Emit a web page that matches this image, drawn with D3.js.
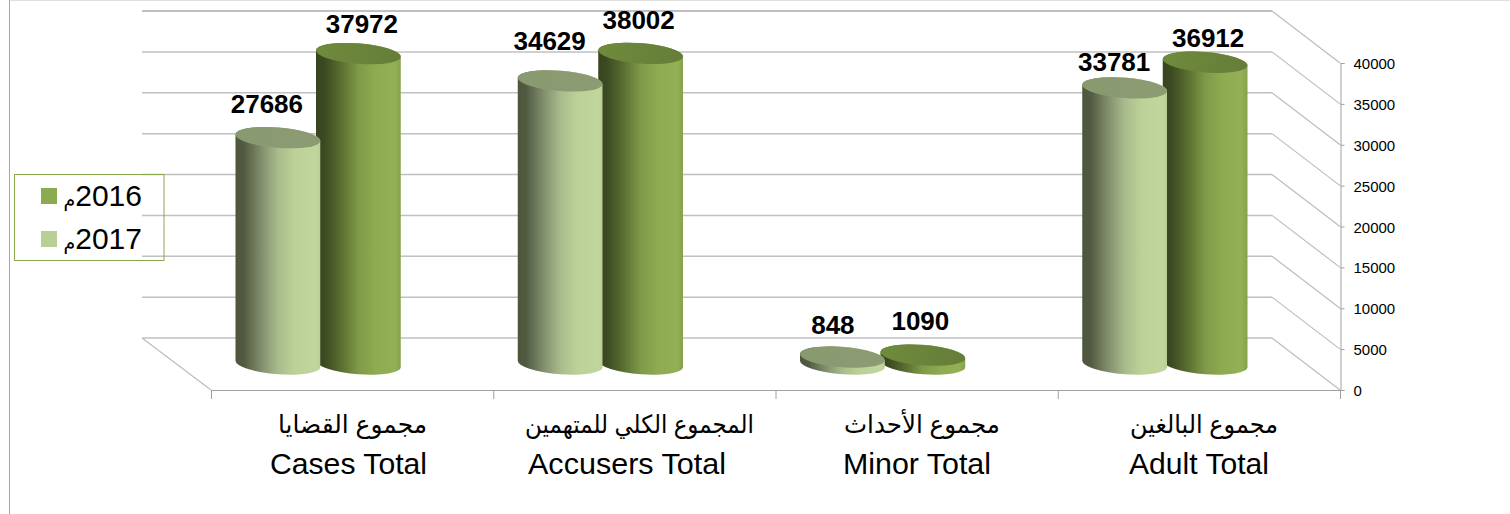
<!DOCTYPE html>
<html lang="ar">
<head>
<meta charset="utf-8">
<script src="https://cdn.jsdelivr.net/npm/d3@7/dist/d3.min.js"></script>
<style>
html,body{margin:0;padding:0;background:#fff;overflow:hidden}
svg{display:block}
text{font-family:"Liberation Sans",Arial,"DejaVu Sans",sans-serif;fill:#000}
</style>
</head>
<body>
<svg id="c" width="1510" height="514"></svg>
<script>
// ---- data ----
const categoriesEn = ["Cases Total", "Accusers Total", "Minor Total", "Adult Total"];
const categoriesAr = ["مجموع القضايا", "المجموع الكلي للمتهمين", "مجموع الأحداث", "مجموع البالغين"];
const seriesNames = ["2017", "2016"];
const values2016 = [37972, 38002, 1090, 36912];
const values2017 = [27686, 34629, 848, 33781];
const yTicks = [0, 5000, 10000, 15000, 20000, 25000, 30000, 35000, 40000];
const legendYears = ["2016", "2017"];
const legendSuffix = "م";

// ---- layout (pixels, separate from the data) ----
const W = 1510, H = 514;
const front = {x0: 211, x1: 1340, y0: 390, y1: 63};
const depth = {dx: 69, dy: 52};
const rx = 42.5, ry = 10.2, tilt = 4.5;
const barOffset = 34;     // cylinders stand mid-way in the 3-D floor
const barFloor = 364;
// hand-placed data labels: offset from the top centre of each cylinder
const nudge2016 = [[3.5, -21], [-2, -24], [-2.5, -25], [3, -15]];
const nudge2017 = [[-11, -25], [-10.5, -31], [-9.5, -23], [-10.5, -17]];
const arWidths = [149, 229, 156, 148], arCx = [352.5, 639.5, 922, 1204];
const enWidths = [157, 198, 148, 140], enCx = [348.5, 627, 917, 1199];

const svg = d3.select("#c");
const defs = svg.append("defs");

const yFront = d3.scaleLinear().domain([0, 40000]).range([front.y0, front.y1]);
const yBar = d3.scaleLinear().domain([0, 40000]).range([barFloor, barFloor - (front.y0 - front.y1)]);
const xBand = d3.scaleBand().domain(categoriesEn).range([front.x0, front.x1]);
const xInner = d3.scalePoint().domain(seriesNames).range([-40.25, 40.25]);

function grad(id, stops) {
  const g = defs.append("linearGradient").attr("id", id).attr("x1", 0).attr("x2", 1).attr("y1", 0).attr("y2", 0);
  stops.forEach(s => g.append("stop").attr("offset", s[0]).attr("stop-color", s[1]));
}
grad("body2016", [[0, "#38451f"], [.1, "#3c4a22"], [.3, "#5a6f30"], [.5, "#7f9a49"], [.7, "#8dab50"], [.93, "#93b056"], [1, "#85a14c"]]);
grad("body2017", [[0, "#4d563b"], [.1, "#525b41"], [.3, "#808d6c"], [.5, "#a8bb8c"], [.7, "#bcd198"], [.95, "#c0d69c"], [1, "#b9cf96"]]);
grad("top2016", [[0, "#6f8b3c"], [1, "#657d39"]]);
grad("top2017", [[0, "#8a9a70"], [1, "#8c9b72"]]);

// frame
svg.append("line").attr("x1", 9).attr("x2", W).attr("y1", .5).attr("y2", .5).attr("stroke", "#e0e0e0");
svg.append("line").attr("x1", 9.5).attr("x2", 9.5).attr("y1", 0).attr("y2", H).attr("stroke", "#a8a8a8");

// walls and floor
const wall = svg.append("g");
wall.append("line").attr("x1", front.x0 - depth.dx).attr("y1", front.y0 - depth.dy)
  .attr("x2", front.x0).attr("y2", front.y0).attr("stroke", "#bdbdbd").attr("stroke-width", 1.2);
yTicks.forEach(t => {
  const y = yFront(t);
  wall.append("line")
    .attr("x1", front.x0 - depth.dx).attr("x2", front.x1 - depth.dx + 1)
    .attr("y1", y - depth.dy).attr("y2", y - depth.dy)
    .attr("stroke", t === 40000 ? "#ababab" : "#c0c0c0").attr("stroke-width", 1.5);
  wall.append("line")
    .attr("x1", front.x1 - depth.dx + 1).attr("x2", front.x1)
    .attr("y1", y - depth.dy).attr("y2", y)
    .attr("stroke", "#bdbdbd").attr("stroke-width", 1.2);
});

// y axis
const yAxis = svg.append("g").attr("transform", `translate(${front.x1 + .5},0)`)
  .call(d3.axisRight(yFront).tickValues(yTicks).tickSize(4).tickPadding(9).tickFormat(d3.format("d")));
yAxis.selectAll("path,line").attr("stroke", "#a0a0a0");
yAxis.selectAll("text").attr("font-size", 15).attr("fill", "#111").attr("dy", "0.37em")
  .style("font-family", '"Liberation Sans",Arial,sans-serif');

// x axis
const xGroup = svg.append("g");
xGroup.append("line").attr("x1", front.x0).attr("x2", front.x1).attr("y1", front.y0 + .5).attr("y2", front.y0 + .5)
  .attr("stroke", "#a0a0a0").attr("stroke-width", 1.2);
const edges = categoriesEn.map(c => xBand(c)).concat([front.x1]);
xGroup.selectAll("line.t").data(edges).enter().append("line").attr("class", "t")
  .attr("x1", d => d + .5).attr("x2", d => d + .5).attr("y1", front.y0).attr("y2", front.y0 + 9)
  .attr("stroke", "#a0a0a0");

// cylinders: 2016 first, 2017 overlaps it
const rows = categoriesEn.flatMap((c, i) => [
  {cat: c, i, s: "2016", v: values2016[i], n: nudge2016[i]},
  {cat: c, i, s: "2017", v: values2017[i], n: nudge2017[i]}
]);
const th = tilt * Math.PI / 180;
const xe = Math.sqrt(rx * rx * Math.cos(th) ** 2 + ry * ry * Math.sin(th) ** 2);
const yo = (rx * rx - ry * ry) * Math.sin(th) * Math.cos(th) / xe;
const cxOf = d => xBand(d.cat) + xBand.bandwidth() / 2 - barOffset + xInner(d.s);

const bars = svg.append("g").selectAll("g").data(rows).enter().append("g");
bars.append("path")
  .attr("fill", d => `url(#body${d.s})`)
  .attr("d", d => {
    const cx = cxOf(d), t = yBar(d.v), b = yBar(0);
    return `M${cx - xe},${t - yo}L${cx - xe},${b - yo}` +
      `A${rx} ${ry} ${tilt} 0 0 ${cx + xe},${b + yo}L${cx + xe},${t + yo}` +
      `A${rx} ${ry} ${tilt} 0 0 ${cx - xe},${t - yo}Z`;
  });
bars.append("ellipse")
  .attr("rx", rx).attr("ry", ry)
  .attr("fill", d => `url(#top${d.s})`)
  .attr("transform", d => `translate(${cxOf(d)},${yBar(d.v)}) rotate(${tilt})`);

// data labels
svg.append("g").selectAll("text").data(rows).enter().append("text")
  .attr("x", d => cxOf(d) + d.n[0]).attr("y", d => yBar(d.v) + d.n[1])
  .attr("text-anchor", "middle").attr("font-size", 26).attr("font-weight", 700)
  .text(d => d.v);

// category labels
const lab = svg.append("g");
categoriesAr.forEach((t, i) => {
  lab.append("text").attr("x", arCx[i]).attr("y", 433).attr("text-anchor", "middle")
    .attr("font-size", 25).attr("direction", "rtl")
    .attr("textLength", arWidths[i]).attr("lengthAdjust", "spacingAndGlyphs").text(t);
});
categoriesEn.forEach((t, i) => {
  lab.append("text").attr("x", enCx[i]).attr("y", 474).attr("text-anchor", "middle")
    .attr("font-size", 30)
    .attr("textLength", enWidths[i]).attr("lengthAdjust", "spacingAndGlyphs").text(t);
});

// legend
const legend = svg.append("g");
legend.append("rect").attr("x", 14.5).attr("y", 174.5).attr("width", 149.5).attr("height", 86)
  .attr("fill", "none").attr("stroke", "#8ca752");
const legendColors = ["#8eaa4f", "#b9cf96"], legendY = [188, 231];
legendYears.forEach((t, i) => {
  legend.append("rect").attr("x", 41).attr("y", legendY[i]).attr("width", 16).attr("height", 16).attr("fill", legendColors[i]);
  const txt = legend.append("text").attr("x", 142).attr("y", legendY[i] + 18).attr("font-size", 30)
    .style("direction", "rtl").attr("text-anchor", "start");
  txt.append("tspan").text(t);
  txt.append("tspan").attr("font-size", 19).text(legendSuffix);
});
</script>
</body>
</html>
